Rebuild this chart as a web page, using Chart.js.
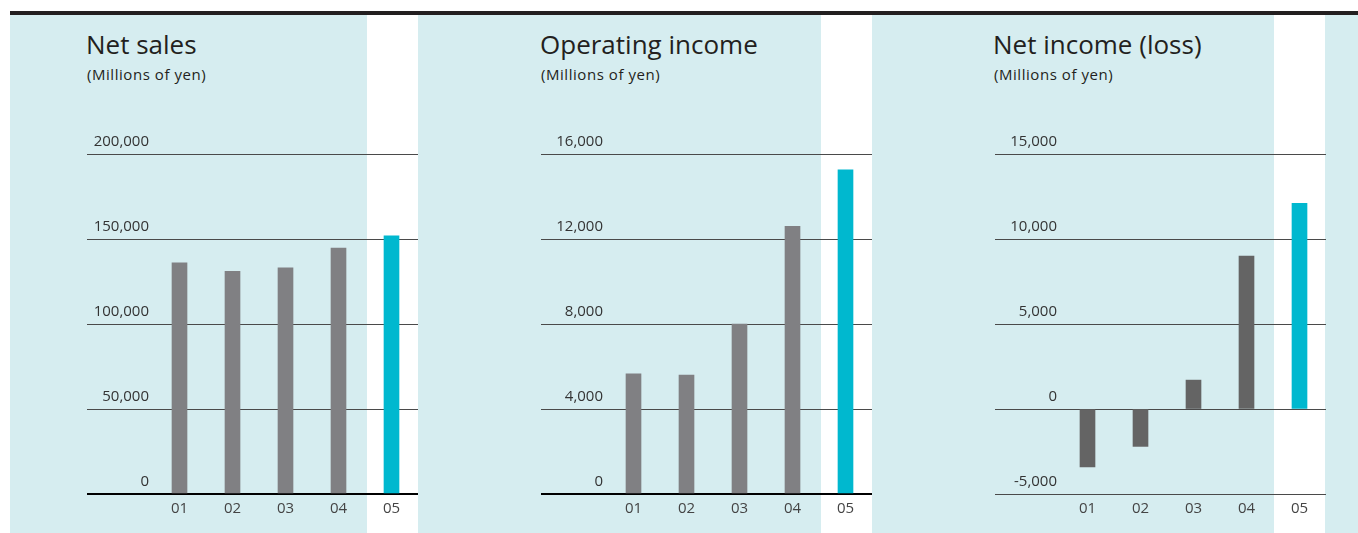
<!DOCTYPE html>
<html>
<head>
<meta charset="utf-8">
<script src="https://cdn.jsdelivr.net/npm/chart.js@4.4.1/dist/chart.umd.min.js"></script>
<style>
  html, body { margin: 0; padding: 0; background: #ffffff; }
  body { width: 1358px; height: 533px; position: relative; overflow: hidden; font-family: 'Open Sans', 'Noto Sans', sans-serif; color: #231f20; }
  .topbar { position: absolute; left: 10px; top: 11px; width: 1348px; height: 4px; background: #231f20; }
  .bg { position: absolute; top: 15px; height: 518px; background: #d6edf0; }
  .title { position: absolute; font-size: 26px; line-height: 26px; white-space: nowrap; color: #231f20; }
  .sub { position: absolute; font-size: 15px; line-height: 15px; letter-spacing: 0.55px; white-space: nowrap; color: #231f20; }
  canvas { position: absolute; }
</style>
</head>
<body>
<div class="topbar"></div>
<div class="bg" style="left:10px;width:357px"></div>
<div class="bg" style="left:418px;width:403px"></div>
<div class="bg" style="left:872px;width:402px"></div>
<div class="bg" style="left:1325px;width:33px"></div>

<div class="title" style="left:86px;top:31px">Net sales</div>
<div class="sub" style="left:87px;top:67px">(Millions of yen)</div>
<div class="title" style="left:540px;top:31px">Operating income</div>
<div class="sub" style="left:541px;top:67px">(Millions of yen)</div>
<div class="title" style="left:993px;top:31px">Net income (loss)</div>
<div class="sub" style="left:994px;top:67px">(Millions of yen)</div>

<canvas id="c1" width="331" height="403" style="left:87px;top:130px"></canvas>
<canvas id="c2" width="331" height="403" style="left:541px;top:130px"></canvas>
<canvas id="c3" width="331" height="403" style="left:995px;top:130px"></canvas>

<script>
// ---- data ----
const categories = ['01', '02', '03', '04', '05'];

const netSales = [136000, 131000, 133000, 144700, 151800];
const netSalesTicks = ['0', '50,000', '100,000', '150,000', '200,000'];
const netSalesTickValues = [0, 50000, 100000, 150000, 200000];

const operatingIncome = [5650, 5600, 8000, 12600, 15250];
const operatingIncomeTicks = ['0', '4,000', '8,000', '12,000', '16,000'];
const operatingIncomeTickValues = [0, 4000, 8000, 12000, 16000];

const netIncome = [-3400, -2200, 1700, 9000, 12100];
const netIncomeTicks = ['-5,000', '0', '5,000', '10,000', '15,000'];
const netIncomeTickValues = [-5000, 0, 5000, 10000, 15000];

// ---- styling ----
const FONT = "'Open Sans', 'Noto Sans', sans-serif";
const HIGHLIGHT = '#00b8cf';

function makeChart(id, values, tickValues, tickLabels, barColor, boldZero) {
  const minV = tickValues[0];
  const maxV = tickValues[tickValues.length - 1];
  const step = tickValues[1] - tickValues[0];
  return new Chart(document.getElementById(id), {
    type: 'bar',
    data: {
      labels: categories,
      datasets: [{
        data: values,
        backgroundColor: (ctx) => ctx.dataIndex === categories.length - 1 ? HIGHLIGHT : barColor,
        borderWidth: 0,
        barThickness: 15
      }]
    },
    options: {
      responsive: false,
      maintainAspectRatio: false,
      animation: false,
      events: [],
      layout: { padding: { top: 24, right: 0, bottom: 0, left: 0 } },
      plugins: { legend: { display: false }, tooltip: { enabled: false }, title: { display: false } },
      scales: {
        x: {
          grid: { display: false, drawTicks: false },
          border: { display: false },
          ticks: { color: '#444444', font: { family: FONT, size: 15 }, padding: 6, maxRotation: 0 },
          afterFit: (scale) => { scale.height = 39; }
        },
        y: {
          min: minV,
          max: maxV,
          border: { display: false },
          grid: {
            drawTicks: true,
            tickLength: 66,
            color: (ctx) => (boldZero && ctx.tick && ctx.tick.value === 0) ? '#000000' : '#4a4a4a',
            lineWidth: (ctx) => (boldZero && ctx.tick && ctx.tick.value === 0) ? 2 : 1
          },
          afterBuildTicks: (scale) => { scale.ticks = tickValues.map(v => ({ value: v })); },
          ticks: {
            stepSize: step,
            padding: -62,
            labelOffset: -12,
            color: '#333333',
            font: { family: FONT, size: 15 },
            callback: (value) => {
              const i = tickValues.indexOf(value);
              return i >= 0 ? tickLabels[i] : '';
            }
          },
          afterFit: (scale) => { scale.width = 66; }
        }
      }
    }
  });
}

makeChart('c1', netSales, netSalesTickValues, netSalesTicks, '#808083', true);
makeChart('c2', operatingIncome, operatingIncomeTickValues, operatingIncomeTicks, '#808083', true);
makeChart('c3', netIncome, netIncomeTickValues, netIncomeTicks, '#646464', false);
</script>
</body>
</html>
